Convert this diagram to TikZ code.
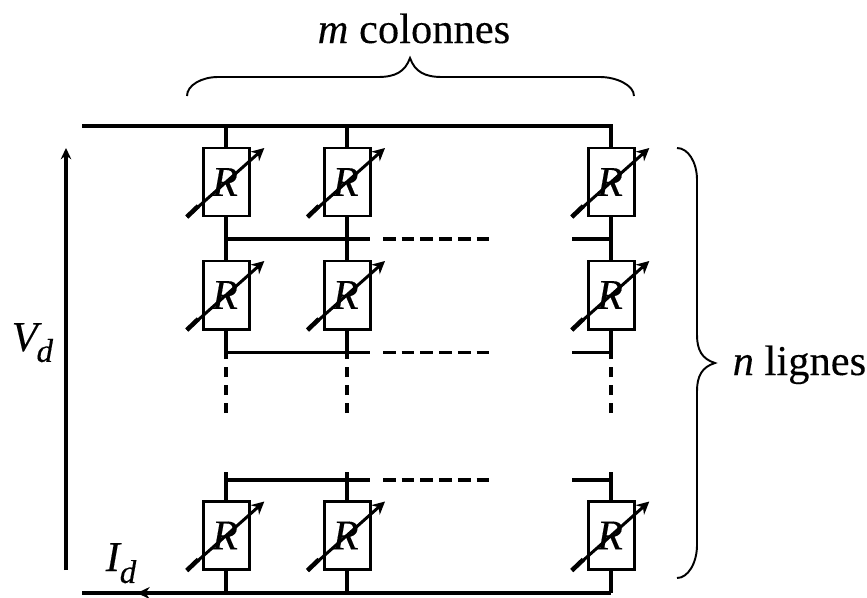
\documentclass[tikz,border=0pt]{standalone}
\usepackage{fontspec}
\setmainfont[UprightFeatures={FakeBold=0.2},ItalicFeatures={FakeBold=0.2}]{Liberation Serif}
\usetikzlibrary{arrows.meta}
\newcommand*\txtsize{\fontsize{12.1}{14}\selectfont}
\newcommand*\subsize{\fontsize{9.4}{11}\selectfont}
\tikzset{
  wire/.style={line width=1.1pt},
  res/.style={draw, line width=.85pt, inner sep=0pt, outer sep=0pt, minimum width=.46cm, minimum height=.68cm, font=\txtsize\itshape},
  lab/.style={inner sep=0pt, anchor=base west, font=\txtsize},
  curly/.style={line width=.55pt},
  vdash/.style={dash pattern=on .1cm off .08cm},
  hdash/.style={dash pattern=on .127cm off .06cm}
}

\begin{document}
\begin{tikzpicture}
\useasboundingbox (0,0) rectangle (8.67,5.97);

\foreach \name/\x in {a/2.263,b/3.47,c/6.113} {
  \foreach \row/\y in {1/4.15,2/3.02,3/0.615} {
    \node[res] (\name\row) at (\x,\y) {R\kern.8pt};
  }
}

\coordinate (topleft) at (0.82,4.71);
\coordinate (topright) at (6.13,4.71);
\coordinate (botleft) at (0.82,0.04);
\coordinate (r1) at (0,3.58);
\coordinate (r2) at (0,2.45);
\coordinate (r3) at (0,1.17);
\coordinate (stubend) at (0,1.84);
\coordinate (stubtop) at (0,1.25);
\coordinate (gapa) at (3.70,0);
\coordinate (dasha) at (3.83,0);
\coordinate (dashb) at (4.89,0);
\coordinate (gapb) at (5.72,0);

\draw[line width=1.4pt] (topleft) -- (topright);
\draw[line width=.9pt] (botleft) -- (c3.south |- botleft);

\foreach \name in {a,b,c} {
  \draw[wire] (\name1.north) -- (\name1.north |- topleft);
  \draw[wire] (\name1.south) -- (\name2.north);
  \draw[wire] (\name2.south) -- (\name2.south |- r2);
  \draw[wire, vdash] (\name2.south |- stubend) -- (\name2.south |- r2);
  \draw[wire] (\name3.north) -- (\name3.north |- stubtop);
  \draw[wire] (\name3.south) -- (\name3.south |- botleft);
  \foreach \row in {1,2,3} {
    \draw[line width=.85pt, -{Stealth[length=3.6pt,width=3.6pt]}] ([shift={(-.395,-.35)}]\name\row.center) -- ([shift={(.38,.34)}]\name\row.center);
    \draw[line width=1.3pt] ([shift={(-.395,-.35)}]\name\row.center) -- ([shift={(-.28,-.24)}]\name\row.center);
  }
}

\foreach \r/\w in {1/1.15pt,2/.85pt,3/1.3pt} {
  \draw[line width=\w] (a1.south |- r\r) -- (gapa |- r\r);
  \draw[line width=\w, hdash] (dasha |- r\r) -- (dashb |- r\r);
  \draw[line width=\w] (gapb |- r\r) -- (c1.south |- r\r);
}

\coordinate (vlow) at (0.66,0.27);
\coordinate (vtop) at (0.66,4.49);
\draw[wire, -{Stealth[length=3.2pt,width=3pt]}] (vlow) -- (vtop);
\coordinate (ifrom) at (1.60,0.04);
\coordinate (ito) at (1.37,0.04);
\draw[line width=.9pt, -{Stealth[length=3.6pt,width=3.4pt]}] (ifrom) -- (ito);

\draw[curly] (1.87,5.01) .. controls (1.87,5.12) and (2.02,5.20) .. (2.18,5.20) -- (3.78,5.20) .. controls (3.95,5.20) and (4.05,5.25) .. (4.10,5.39) .. controls (4.15,5.25) and (4.25,5.20) .. (4.42,5.20) -- (6.00,5.20) .. controls (6.16,5.20) and (6.34,5.12) .. (6.34,5.01);
\draw[curly] (6.77,4.49) .. controls (6.88,4.49) and (6.97,4.35) .. (6.97,4.17) -- (6.97,2.62) .. controls (6.97,2.47) and (7.02,2.38) .. (7.15,2.34) .. controls (7.02,2.30) and (6.97,2.21) .. (6.97,2.06) -- (6.97,0.52) .. controls (6.97,0.34) and (6.88,0.19) .. (6.77,0.19);

\node[lab] (mcol) at (3.17,5.54) {\textit{m} colonnes};
\node[lab] (nlig) at (7.32,2.22) {\textit{n} lignes};
\node[lab] (vd) at (0.11,2.46) {\textit{V}\kern-1.5pt\raisebox{-3.1pt}{\subsize\textit{d}}};
\node[lab] (id) at (1.05,0.26) {\textit{I}\kern-.5pt\raisebox{-3.4pt}{\subsize\textit{d}}};
\end{tikzpicture}
\end{document}
